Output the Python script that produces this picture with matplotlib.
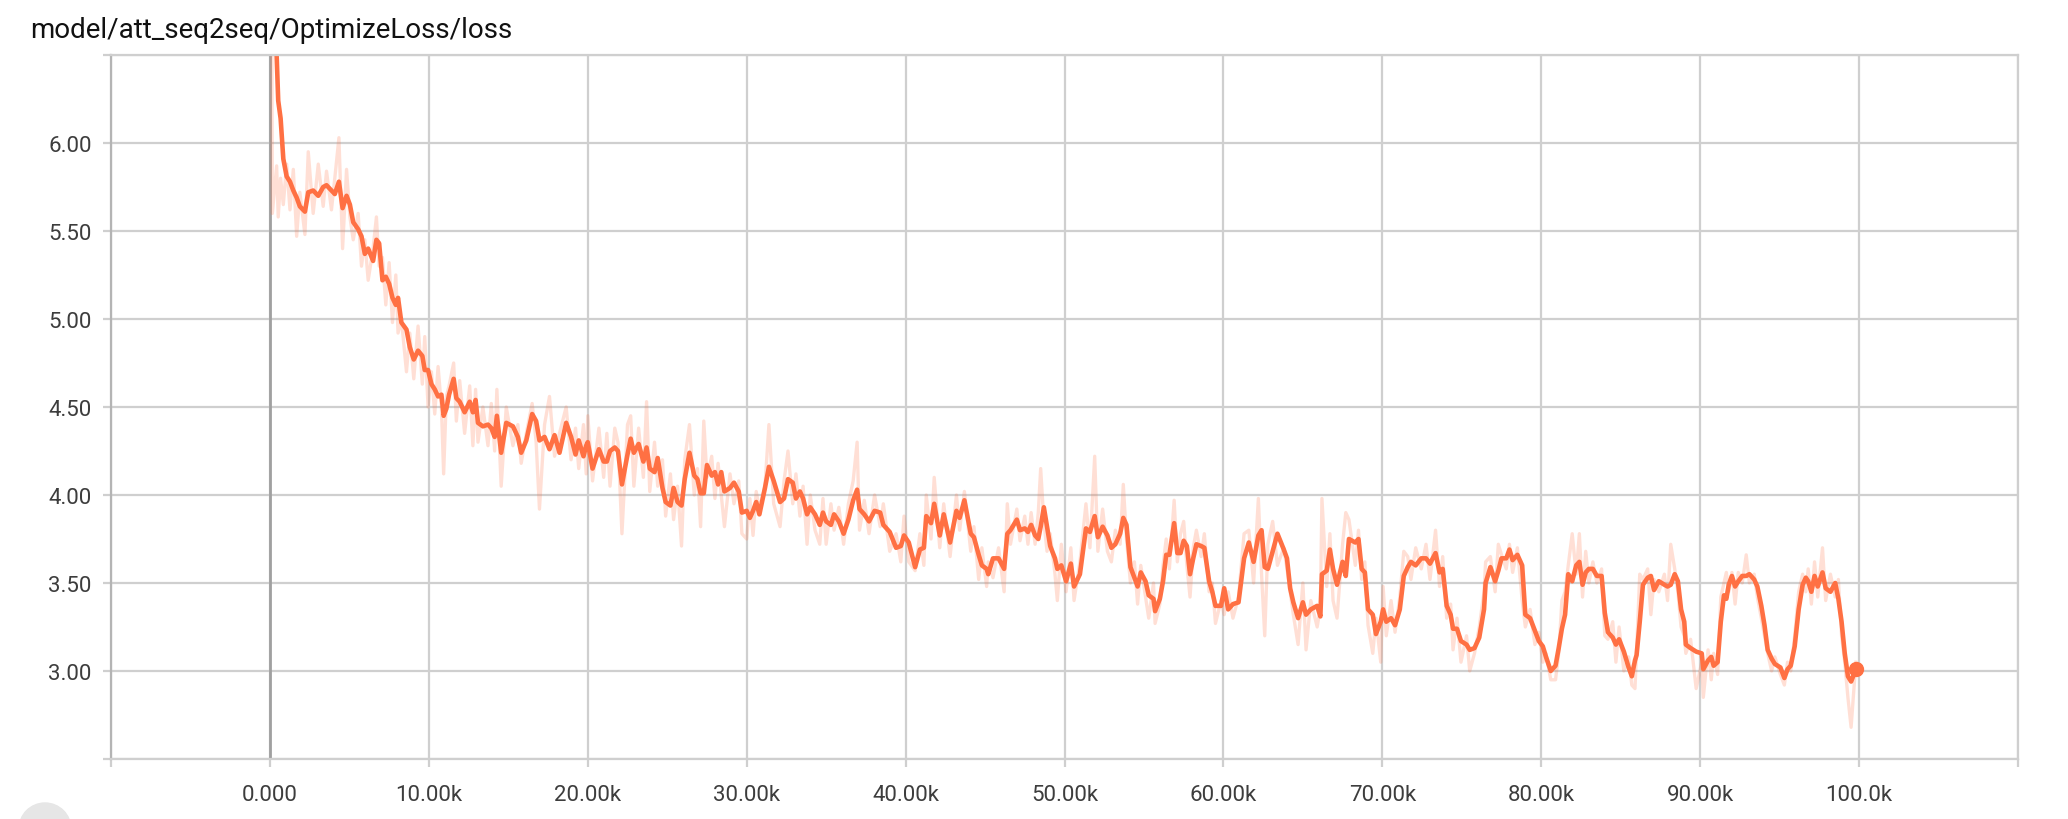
import matplotlib
matplotlib.use("Agg")
import matplotlib.pyplot as plt
from matplotlib.patches import Circle

title = "model/att_seq2seq/OptimizeLoss/loss"

steps = [
    0, 150, 420, 520, 670, 840, 1050, 1260, 1470, 1680, 1880, 2200, 2410, 2720, 3040,
    3350, 3560, 3870, 4080, 4340, 4570, 4820, 5030, 5240, 5550, 5760, 5970, 6180, 6490,
    6700, 6870, 7080, 7290, 7500, 7710, 7920, 8060, 8270, 8590, 8800, 9050, 9320, 9590,
    9740, 9950, 10160, 10370, 10580, 10790, 10930, 11100, 11270, 11560, 11730, 11940,
    12250, 12570, 12770, 12940, 13090, 13400, 13720, 13930, 14140, 14280, 14550, 14870,
    15290, 15600, 15810, 16130, 16500, 16750, 16960, 17280, 17590, 17910, 18220, 18640,
    18950, 19230, 19430, 19730, 19900, 20000, 20300, 20700, 21000, 21200, 21400, 21700,
    21900, 22150, 22500, 22700, 22900, 23200, 23500, 23700, 23900, 24200, 24400, 24700,
    24900, 25200, 25400, 25650, 25900, 26100, 26400, 26700, 26900, 27100, 27300, 27500,
    27800, 28000, 28200, 28400, 28600, 28950, 29200, 29500, 29700, 30000, 30200, 30400,
    30600, 30800, 31150, 31400, 31700, 32100, 32350, 32600, 32900, 33100, 33350, 33550,
    33800, 34000, 34300, 34600, 34800, 35000, 35300, 35500, 35800, 36100, 36400, 36700,
    36950, 37100, 37400, 37700, 38050, 38400, 38600, 39000, 39400, 39700, 39900, 40200,
    40600, 40900, 41150, 41300, 41600, 41800, 42150, 42400, 42800, 43200, 43400, 43700,
    44100, 44300, 44600, 44800, 45100, 45200, 45500, 45850, 46200, 46400, 46600, 47000,
    47200, 47500, 47700, 47900, 48150, 48350, 48500, 48700, 48900, 49100, 49400, 49550,
    49800, 50100, 50400, 50600, 50970, 51350, 51600, 51900, 52100, 52400, 52700, 52950,
    53200, 53500, 53700, 53900, 54150, 54400, 54600, 54800, 55100, 55300, 55600, 55700,
    56000, 56200, 56400, 56600, 56900, 57100, 57300, 57500, 57700, 57900, 58100, 58300,
    58600, 58800, 59100, 59300, 59500, 59850, 60050, 60300, 60600, 60950, 61300, 61600,
    61900, 62200, 62400, 62600, 62800, 63100, 63400, 63800, 64000, 64200, 64400, 64700,
    65000, 65200, 65500, 65900, 66100, 66200, 66500, 66700, 66900, 67150, 67500, 67700,
    67900, 68300, 68500, 68700, 68900, 69100, 69400, 69600, 69900, 70050, 70250, 70550,
    70800, 71100, 71350, 71600, 71800, 72100, 72450, 72750, 73000, 73350, 73600, 73800,
    74050, 74300, 74450, 74700, 74950, 75300, 75500, 75800, 76100, 76400, 76500, 76800,
    77100, 77300, 77500, 77800, 78000, 78200, 78500, 78800, 79000, 79300, 79600, 79850,
    80100, 80300, 80600, 80900, 81100, 81300, 81500, 81700, 81950, 82200, 82400, 82600,
    82800, 83000, 83250, 83500, 83800, 84000, 84200, 84500, 84700, 84900, 85200, 85500,
    85700, 85900, 86000, 86200, 86400, 86700, 86900, 87100, 87400, 87750, 87950, 88150,
    88400, 88600, 88800, 89000, 89100, 89400, 89750, 90100, 90200, 90500, 90700, 90850,
    91100, 91300, 91500, 91650, 91800, 92000, 92200, 92400, 92650, 92900, 93100, 93400,
    93600, 93850, 94050, 94250, 94500, 94700, 95050, 95300, 95500, 95700, 95950, 96200,
    96450, 96650, 96800, 97000, 97200, 97400, 97700, 97900, 98200, 98500, 98700, 98900,
    99100, 99300, 99500, 99800,
]

smoothed = [
    9.0, 7.4, 6.5, 6.24, 6.14, 5.91, 5.81, 5.78, 5.73, 5.69, 5.64, 5.61, 5.72, 5.73, 5.70,
    5.75, 5.76, 5.73, 5.71, 5.78, 5.63, 5.70, 5.65, 5.55, 5.51, 5.47, 5.37, 5.40, 5.33,
    5.45, 5.43, 5.22, 5.24, 5.20, 5.12, 5.08, 5.12, 4.98, 4.94, 4.84, 4.77, 4.82, 4.79,
    4.71, 4.71, 4.63, 4.60, 4.56, 4.57, 4.45, 4.49, 4.57, 4.66, 4.55, 4.53,
    4.47, 4.53, 4.47, 4.54, 4.41, 4.39, 4.40, 4.38, 4.33, 4.45, 4.24, 4.41,
    4.39, 4.33, 4.24, 4.31, 4.46, 4.42, 4.31, 4.33, 4.26, 4.34, 4.24, 4.41,
    4.33, 4.23, 4.31, 4.22, 4.28, 4.30, 4.15, 4.26, 4.19, 4.19, 4.25, 4.27,
    4.25, 4.06, 4.23, 4.32, 4.24, 4.29, 4.19, 4.27, 4.15, 4.13, 4.21, 4.04,
    3.96, 3.94, 4.04, 3.96, 3.94, 4.09, 4.24, 4.11, 4.09, 4.01, 4.01, 4.17,
    4.11, 4.13, 4.06, 4.13, 4.02, 4.04, 4.07, 4.02, 3.90, 3.91, 3.87, 3.91,
    3.96, 3.89, 4.04, 4.16, 4.08, 3.96, 3.98, 4.09, 4.07, 3.98, 4.02, 3.98,
    3.89, 3.93, 3.89, 3.83, 3.90, 3.85, 3.83, 3.89, 3.85, 3.78, 3.86, 3.97,
    4.03, 3.92, 3.89, 3.85, 3.91, 3.90, 3.83, 3.79, 3.70, 3.71, 3.77, 3.73,
    3.59, 3.69, 3.70, 3.88, 3.84, 3.95, 3.77, 3.89, 3.73, 3.91, 3.87, 3.97,
    3.78, 3.76, 3.66, 3.60, 3.58, 3.55, 3.64, 3.64, 3.58, 3.78, 3.80, 3.86,
    3.80, 3.81, 3.79, 3.83, 3.77, 3.75, 3.82, 3.93, 3.82, 3.71, 3.64, 3.58,
    3.60, 3.51, 3.61, 3.48, 3.55, 3.81, 3.79, 3.88, 3.76, 3.82, 3.77, 3.70,
    3.72, 3.78, 3.87, 3.83, 3.59, 3.53, 3.48, 3.56, 3.51, 3.43, 3.41, 3.34,
    3.41, 3.51, 3.66, 3.66, 3.84, 3.67, 3.67, 3.74, 3.71, 3.55, 3.64, 3.72,
    3.71, 3.70, 3.51, 3.45, 3.37, 3.37, 3.47, 3.35, 3.38, 3.39, 3.64, 3.73,
    3.62, 3.77, 3.80, 3.59, 3.58, 3.68, 3.78, 3.69, 3.64, 3.47, 3.39, 3.30,
    3.39, 3.32, 3.35, 3.37, 3.31, 3.55, 3.57, 3.69, 3.58, 3.49, 3.62, 3.54,
    3.75, 3.73, 3.75, 3.58, 3.56, 3.35, 3.32, 3.21, 3.28, 3.35, 3.28, 3.30,
    3.26, 3.35, 3.54, 3.59, 3.62, 3.60, 3.64, 3.64, 3.61, 3.67, 3.56, 3.58,
    3.37, 3.32, 3.24, 3.24, 3.17, 3.15, 3.12, 3.13, 3.19, 3.35, 3.50, 3.59,
    3.51, 3.57, 3.64, 3.64, 3.69, 3.63, 3.66, 3.60, 3.32, 3.30, 3.23, 3.17,
    3.14, 3.08, 3.00, 3.03, 3.13, 3.24, 3.32, 3.55, 3.51, 3.60, 3.62, 3.49,
    3.56, 3.58, 3.58, 3.54, 3.54, 3.33, 3.22, 3.19, 3.15, 3.18, 3.11, 3.02,
    2.97, 3.06, 3.09, 3.28, 3.49, 3.53, 3.54, 3.46, 3.51, 3.49, 3.48, 3.49,
    3.55, 3.51, 3.35, 3.28, 3.15, 3.13, 3.11, 3.10, 3.01, 3.06, 3.08, 3.03,
    3.05, 3.28, 3.43, 3.41, 3.49, 3.54, 3.48, 3.51, 3.54, 3.54, 3.55, 3.52,
    3.48, 3.37, 3.26, 3.12, 3.07, 3.04, 3.02, 2.96, 3.01, 3.03, 3.14, 3.35,
    3.49, 3.53, 3.51, 3.45, 3.54, 3.48, 3.56, 3.47, 3.45, 3.50, 3.41, 3.28,
    3.10, 2.97, 2.94, 3.01,
]

raw = [
    10.5, 5.60, 5.87, 5.58, 5.80, 5.65, 5.88, 5.62, 5.85, 5.47, 5.72, 5.48, 5.95, 5.60, 5.88,
    5.64, 5.84, 5.62, 5.80, 6.03, 5.40, 5.85, 5.58, 5.45, 5.60, 5.30, 5.45, 5.22, 5.40,
    5.58, 5.30, 5.35, 5.08, 5.32, 4.98, 5.25, 4.92, 5.00, 4.70, 4.92, 4.66, 4.96, 4.63,
    4.90, 4.50, 4.70, 4.46, 4.73, 4.50, 4.12, 4.56, 4.62, 4.75, 4.42, 4.65,
    4.35, 4.62, 4.28, 4.60, 4.30, 4.50, 4.28, 4.52, 4.25, 4.60, 4.05, 4.50,
    4.28, 4.40, 4.18, 4.35, 4.52, 4.30, 3.92, 4.40, 4.56, 4.22, 4.35, 4.50,
    4.20, 4.38, 4.15, 4.40, 4.12, 4.45, 4.08, 4.38, 4.10, 4.35, 4.05, 4.38,
    4.30, 3.78, 4.40, 4.45, 4.05, 4.38, 4.10, 4.53, 4.02, 4.30, 4.05, 4.20,
    3.88, 4.12, 3.86, 4.05, 3.71, 4.20, 4.40, 4.00, 4.15, 3.82, 4.42, 4.10,
    4.22, 3.98, 4.18, 4.00, 3.82, 4.12, 3.95, 4.08, 3.78, 3.75, 3.98, 3.77,
    4.02, 3.92, 4.05, 4.40, 3.95, 3.82, 4.08, 4.25, 3.95, 4.12, 3.88, 4.05,
    3.72, 4.00, 3.80, 3.72, 3.98, 3.72, 3.95, 3.80, 3.93, 3.72, 3.95, 4.08,
    4.30, 3.80, 3.97, 3.78, 4.00, 3.82, 3.95, 3.68, 3.78, 3.62, 3.88, 3.62,
    3.57, 3.78, 3.60, 4.00, 3.75, 4.10, 3.70, 3.95, 3.65, 4.00, 3.80, 4.02,
    3.68, 3.82, 3.52, 3.70, 3.48, 3.62, 3.53, 3.70, 3.45, 3.95, 3.72, 3.92,
    3.74, 3.88, 3.72, 3.90, 3.72, 3.90, 4.15, 3.85, 3.68, 3.78, 3.55, 3.40,
    3.72, 3.45, 3.70, 3.40, 3.62, 3.95, 3.70, 4.22, 3.68, 3.92, 3.68, 3.62,
    3.80, 3.72, 4.06, 3.75, 3.50, 3.62, 3.38, 3.60, 3.42, 3.30, 3.50, 3.27,
    3.38, 3.60, 3.75, 3.58, 3.97, 3.62, 3.78, 3.85, 3.60, 3.42, 3.70, 3.80,
    3.65, 3.78, 3.45, 3.50, 3.27, 3.40, 3.32, 3.45, 3.30, 3.42, 3.78, 3.80,
    3.50, 3.98, 3.55, 3.20, 3.72, 3.85, 3.60, 3.70, 3.58, 3.45, 3.32, 3.15,
    3.50, 3.12, 3.40, 3.25, 3.36, 3.98, 3.48, 3.78, 3.40, 3.30, 3.72, 3.90,
    3.86, 3.60, 3.80, 3.52, 3.62, 3.26, 3.10, 3.30, 3.05, 3.48, 3.20, 3.40,
    3.22, 3.42, 3.68, 3.65, 3.52, 3.70, 3.58, 3.72, 3.52, 3.80, 3.48, 3.65,
    3.30, 3.38, 3.12, 3.30, 3.05, 3.20, 3.00, 3.10, 3.25, 3.45, 3.62, 3.65,
    3.45, 3.72, 3.66, 3.58, 3.72, 3.56, 3.70, 3.40, 3.25, 3.35, 3.15, 3.22,
    3.05, 3.10, 2.95, 2.95, 3.10, 3.40, 3.45, 3.60, 3.78, 3.55, 3.78, 3.42,
    3.68, 3.50, 3.62, 3.50, 3.58, 3.20, 3.18, 3.28, 3.05, 3.25, 3.00, 3.08,
    2.92, 2.90, 3.12, 3.55, 3.52, 3.58, 3.32, 3.52, 3.45, 3.55, 3.40, 3.72,
    3.58, 3.45, 3.25, 3.20, 3.10, 3.18, 2.90, 3.05, 2.85, 3.12, 2.95, 3.10,
    2.98, 3.42, 3.50, 3.56, 3.45, 3.56, 3.38, 3.56, 3.50, 3.66, 3.50, 3.55,
    3.42, 3.30, 3.20, 3.10, 3.00, 3.08, 2.98, 2.92, 3.05, 3.00, 3.20, 3.45,
    3.55, 3.45, 3.58, 3.38, 3.62, 3.42, 3.70, 3.40, 3.55, 3.42, 3.52, 3.20,
    3.05, 2.85, 2.68, 3.05,
]

x_ticks = [-10000, 0, 10000, 20000, 30000, 40000, 50000, 60000, 70000, 80000, 90000, 100000, 110000]
x_labels = ["", "0.000", "10.00k", "20.00k", "30.00k", "40.00k", "50.00k", "60.00k",
            "70.00k", "80.00k", "90.00k", "100.0k", ""]
y_ticks = [2.5, 3.0, 3.5, 4.0, 4.5, 5.0, 5.5, 6.0, 6.5]
y_labels = ["", "3.00", "3.50", "4.00", "4.50", "5.00", "5.50", "6.00", ""]

orange = "#ff7043"
grid_col = "#cfcfcf"

plt.rcParams['font.family'] = ['Roboto', 'DejaVu Sans']

fig = plt.figure(figsize=(20.68, 8.2), dpi=100)
ax = fig.add_axes([0.0537, 0.0732, 0.9221, 0.8585])

ax.plot(steps, raw, color=orange, alpha=0.22, lw=2.4)
ax.plot(steps, smoothed, color=orange, lw=3.3)
ax.plot(steps[-1:], smoothed[-1:], 'o', color=orange, ms=10)

ax.set_xlim(-10000, 110000)
ax.set_ylim(2.5, 6.5)
ax.set_xticks(x_ticks)
ax.set_xticklabels(x_labels)
ax.set_yticks(y_ticks)
ax.set_yticklabels(y_labels)

ax.grid(True, color=grid_col, lw=1.6)
ax.set_axisbelow(True)
ax.axvline(0, color="#a0a0a0", lw=2, zorder=1)
for s in ax.spines.values():
    s.set_color(grid_col)
    s.set_linewidth(1.6)
ax.spines['left'].set_color("#b4b4b4")

ax.tick_params(axis='both', colors=grid_col, width=1.6, length=6, labelcolor="#3d3d3d",
               labelsize=16)
ax.tick_params(axis='x', pad=12)
ax.tick_params(axis='y', pad=8)

fig.text(0.0145, 0.963, title, fontsize=20, color="#111111", va='center', ha='left')

fig.patches.append(Circle((45, -10), 26, transform=None, color="#e6e6e6"))

fig.savefig("out.png", dpi=100)
